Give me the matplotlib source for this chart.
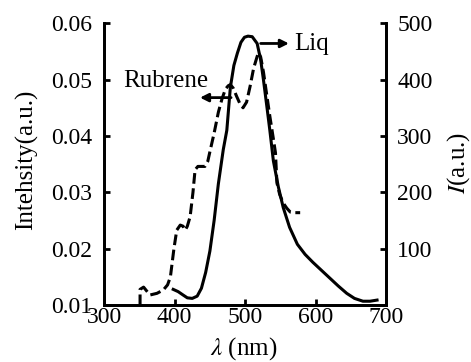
import matplotlib.pyplot as plt

plt.rcParams['font.family'] = ['Liberation Serif', 'DejaVu Serif']
plt.rcParams['mathtext.fontset'] = 'stix'

# Rubrene (dashed, left axis)
rub_x = [351, 351, 356, 365, 375, 384, 390, 394, 399, 403, 408, 412, 415, 418, 422,
         426, 429, 433, 438, 443, 447, 450, 456, 462, 467, 472, 476, 479, 483, 488,
         493, 497, 502, 507, 512, 517, 519, 522, 526, 530, 535, 540, 543, 545, 549,
         554, 559, 564, 571, 578]
rub_y = [0.0100, 0.0128, 0.0132, 0.0118, 0.0121, 0.0127, 0.0136, 0.0150, 0.0200, 0.0233, 0.0242, 0.0240, 0.0233, 0.0240, 0.0257,
         0.0300, 0.0340, 0.0346, 0.0346, 0.0346, 0.0355, 0.0372, 0.0405, 0.0442, 0.0465, 0.0483, 0.0489, 0.0491, 0.0485, 0.0470,
         0.0456, 0.0450, 0.0460, 0.0488, 0.0520, 0.0541, 0.0548, 0.0540, 0.0513, 0.0478, 0.0435, 0.0395, 0.0370, 0.0317, 0.0296,
         0.0281, 0.0272, 0.0265, 0.0264, 0.0264]

# Liq (solid, right axis)
liq_x = [398, 405, 412, 418, 425, 432, 438, 444, 450, 456, 462, 469, 474, 479, 484,
         489, 494, 499, 504, 510, 517, 522, 526, 531, 535, 540, 547, 554, 563, 574,
         585, 596, 608, 620, 632, 644, 655, 667, 677, 687]
liq_I = [28, 24, 18, 13, 12, 16, 30, 58, 96, 150, 215, 276, 310, 386, 425,
         447, 466, 475, 477, 476, 464, 435, 399, 350, 310, 256, 210, 173, 138, 108,
         90, 76, 62, 48, 34, 21, 12, 7, 7, 9]

fig = plt.figure(figsize=(4.71, 3.62), dpi=100)
ax = fig.add_axes([0.221, 0.157, 0.599, 0.779])
ax2 = ax.twinx()

ax.plot(rub_x, rub_y, color='black', lw=2.2, ls=(0, (3.5, 1.5)))
ax2.plot(liq_x, liq_I, color='black', lw=2.2)

ax.set_xlim(300, 700)
ax.set_ylim(0.01, 0.06)
ax2.set_ylim(0, 500)
ax.set_xticks([300, 400, 500, 600, 700])
ax.set_yticks([0.01, 0.02, 0.03, 0.04, 0.05, 0.06])
ax.set_yticklabels(['0.01', '0.02', '0.03', '0.04', '0.05', '0.06'])
ax2.set_yticks([100, 200, 300, 400, 500])

for a in (ax, ax2):
    a.spines['top'].set_visible(False)
    for s in a.spines.values():
        s.set_linewidth(2)
    a.tick_params(direction='in', length=4, width=2, labelsize=17)
ax.tick_params(axis='y', pad=8.5)
ax.tick_params(axis='x', pad=1.5)
ax2.tick_params(axis='y', pad=8)

fig.text(27 / 471, 1 - 160 / 362, 'Intehsity(a.u.)', fontsize=18, rotation=90,
         ha='center', va='center')
fig.text(459 / 471, 1 - 163 / 362, r'$I$(a.u.)', fontsize=18, rotation=90,
         ha='center', va='center')
fig.text(244 / 471, 1 - 349 / 362, r'$\lambda$ (nm)', fontsize=18,
         ha='center', va='center')

ax.annotate('', xy=(432, 0.0468), xytext=(484, 0.0468),
            arrowprops=dict(arrowstyle='-|>', color='black', lw=2, mutation_scale=12))
ax.text(388, 0.0497, 'Rubrene', fontsize=18, ha='center', va='center')
ax2.annotate('', xy=(566, 464), xytext=(518, 464),
             arrowprops=dict(arrowstyle='-|>', color='black', lw=2, mutation_scale=12))
ax2.text(570, 463, 'Liq', fontsize=18, ha='left', va='center')

fig.savefig('out.png', dpi=100)
